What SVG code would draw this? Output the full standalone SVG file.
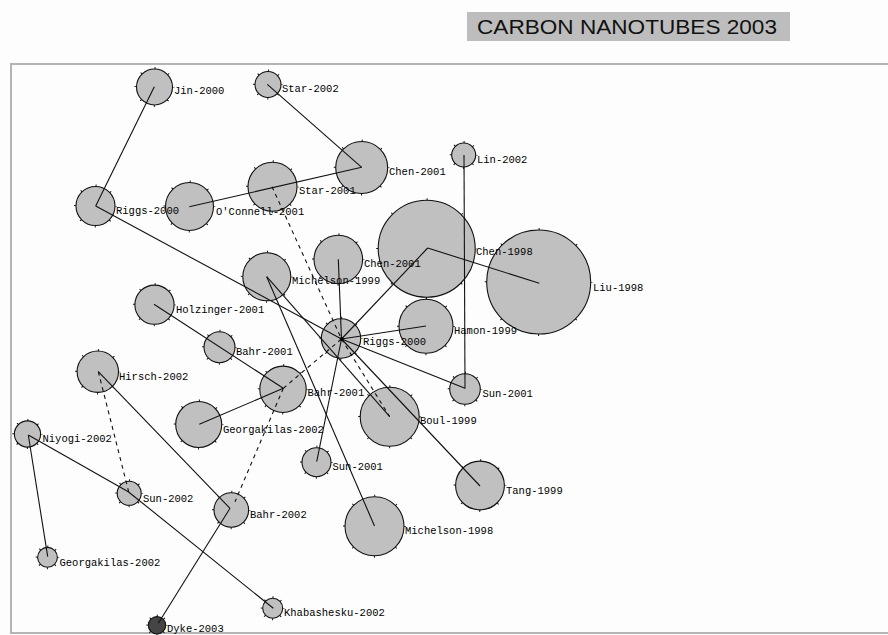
<svg xmlns="http://www.w3.org/2000/svg" width="888" height="635" viewBox="0 0 888 635">
  <defs>
    <style>
      .bg { fill: #fdfdfd; }
      .frame { fill: none; stroke: #b4b4b4; stroke-width: 2; }
      .title-box { fill: #bdbdbd; }
      .title { font-family: "Liberation Sans", Arial, sans-serif; font-size: 21px; fill: #111; }
      .node { fill: #c0c0c0; stroke: #111; stroke-width: 1.1; }
      .node.dark { fill: #454545; }
      .tick { fill: none; stroke: #111; stroke-width: 2; stroke-dashoffset: 0.5; }
      .label { font-family: "Liberation Mono", "DejaVu Sans Mono", monospace; font-size: 10.5px; fill: #000; }
      .edge { stroke: #111; stroke-width: 1.1; fill: none; }
      .edge.dashed { stroke-dasharray: 4 4; }
      .hubdot { fill: #000; }
    </style>
  </defs>

  <rect class="bg" x="0" y="0" width="888" height="635"/>

  <!-- title -->
  <g id="title">
    <rect class="title-box" x="467" y="12" width="323" height="29"/>
    <text class="title" x="477" y="34" textLength="300" lengthAdjust="spacingAndGlyphs">CARBON NANOTUBES 2003</text>
  </g>

  <!-- plot frame -->
  <rect class="frame" x="11" y="64" width="890" height="569"/>

  <!-- nodes: filled circle with a ring of eight small ticks -->
  <g id="jin-2000">
    <circle class="node" cx="154.5" cy="87" r="18"/>
    <circle class="tick" cx="154.5" cy="87" r="19" stroke-dasharray="1 13.92"/>
  </g>
  <g id="star-2002">
    <circle class="node" cx="268" cy="84.5" r="13"/>
    <circle class="tick" cx="268" cy="84.5" r="14" stroke-dasharray="1 10"/>
  </g>
  <g id="chen-2001-a">
    <circle class="node" cx="361.7" cy="167.5" r="26"/>
    <circle class="tick" cx="361.7" cy="167.5" r="27" stroke-dasharray="1 20.21"/>
  </g>
  <g id="lin-2002">
    <circle class="node" cx="463.7" cy="155" r="12"/>
    <circle class="tick" cx="463.7" cy="155" r="13" stroke-dasharray="1 9.21"/>
  </g>
  <g id="star-2001">
    <circle class="node" cx="272.5" cy="186.7" r="24.5"/>
    <circle class="tick" cx="272.5" cy="186.7" r="25.5" stroke-dasharray="1 19.03"/>
  </g>
  <g id="oconnell-2001">
    <circle class="node" cx="189.5" cy="206.5" r="24"/>
    <circle class="tick" cx="189.5" cy="206.5" r="25" stroke-dasharray="1 18.63"/>
  </g>
  <g id="riggs-2000-a">
    <circle class="node" cx="95.5" cy="206" r="19.5"/>
    <circle class="tick" cx="95.5" cy="206" r="20.5" stroke-dasharray="1 15.10"/>
  </g>
  <g id="chen-1998">
    <circle class="node" cx="426.7" cy="248.7" r="48.5"/>
    <circle class="tick" cx="426.7" cy="248.7" r="49.5" stroke-dasharray="1 37.88"/>
  </g>
  <g id="liu-1998">
    <circle class="node" cx="538.7" cy="282" r="52"/>
    <circle class="tick" cx="538.7" cy="282" r="53" stroke-dasharray="1 40.63"/>
  </g>
  <g id="chen-2001-b">
    <circle class="node" cx="338.3" cy="259.5" r="24.3"/>
    <circle class="tick" cx="338.3" cy="259.5" r="25.3" stroke-dasharray="1 18.87"/>
  </g>
  <g id="michelson-1999">
    <circle class="node" cx="266.8" cy="276.8" r="24"/>
    <circle class="tick" cx="266.8" cy="276.8" r="25" stroke-dasharray="1 18.63"/>
  </g>
  <g id="riggs-2000-b">
    <circle class="node" cx="341" cy="338.5" r="19.7"/>
    <circle class="tick" cx="341" cy="338.5" r="20.7" stroke-dasharray="1 15.26"/>
  </g>
  <g id="hamon-1999">
    <circle class="node" cx="426" cy="326.3" r="27"/>
    <circle class="tick" cx="426" cy="326.3" r="28" stroke-dasharray="1 20.99"/>
  </g>
  <g id="sun-2001-a">
    <circle class="node" cx="465" cy="389" r="15.3"/>
    <circle class="tick" cx="465" cy="389" r="16.3" stroke-dasharray="1 11.80"/>
  </g>
  <g id="boul-1999">
    <circle class="node" cx="389.7" cy="416.7" r="29.5"/>
    <circle class="tick" cx="389.7" cy="416.7" r="30.5" stroke-dasharray="1 22.95"/>
  </g>
  <g id="holzinger-2001">
    <circle class="node" cx="154.5" cy="304.7" r="19.6"/>
    <circle class="tick" cx="154.5" cy="304.7" r="20.6" stroke-dasharray="1 15.18"/>
  </g>
  <g id="bahr-2001-a">
    <circle class="node" cx="219.5" cy="347.2" r="15.5"/>
    <circle class="tick" cx="219.5" cy="347.2" r="16.5" stroke-dasharray="1 11.96"/>
  </g>
  <g id="bahr-2001-b">
    <circle class="node" cx="283" cy="389.3" r="23.2"/>
    <circle class="tick" cx="283" cy="389.3" r="24.2" stroke-dasharray="1 18.01"/>
  </g>
  <g id="hirsch-2002">
    <circle class="node" cx="97.8" cy="371.7" r="20.7"/>
    <circle class="tick" cx="97.8" cy="371.7" r="21.7" stroke-dasharray="1 16.04"/>
  </g>
  <g id="georgakilas-2002-a">
    <circle class="node" cx="198.7" cy="424.5" r="23"/>
    <circle class="tick" cx="198.7" cy="424.5" r="24" stroke-dasharray="1 17.85"/>
  </g>
  <g id="niyogi-2002">
    <circle class="node" cx="27.5" cy="434" r="13.1"/>
    <circle class="tick" cx="27.5" cy="434" r="14.1" stroke-dasharray="1 10.07"/>
  </g>
  <g id="sun-2001-b">
    <circle class="node" cx="316.5" cy="462.2" r="14.5"/>
    <circle class="tick" cx="316.5" cy="462.2" r="15.5" stroke-dasharray="1 11.17"/>
  </g>
  <g id="tang-1999">
    <circle class="node" cx="480" cy="485.5" r="24.4"/>
    <circle class="tick" cx="480" cy="485.5" r="25.4" stroke-dasharray="1 18.95"/>
  </g>
  <g id="michelson-1998">
    <circle class="node" cx="374.5" cy="526.2" r="29.5"/>
    <circle class="tick" cx="374.5" cy="526.2" r="30.5" stroke-dasharray="1 22.95"/>
  </g>
  <g id="sun-2002">
    <circle class="node" cx="129.2" cy="493.3" r="12"/>
    <circle class="tick" cx="129.2" cy="493.3" r="13" stroke-dasharray="1 9.21"/>
  </g>
  <g id="bahr-2002">
    <circle class="node" cx="231.3" cy="510" r="17.3"/>
    <circle class="tick" cx="231.3" cy="510" r="18.3" stroke-dasharray="1 13.37"/>
  </g>
  <g id="georgakilas-2002-b">
    <circle class="node" cx="47.5" cy="557.3" r="9.9"/>
    <circle class="tick" cx="47.5" cy="557.3" r="10.9" stroke-dasharray="1 7.56"/>
  </g>
  <g id="khabashesku-2002">
    <circle class="node" cx="272.7" cy="608.3" r="10"/>
    <circle class="tick" cx="272.7" cy="608.3" r="11" stroke-dasharray="1 7.64"/>
  </g>
  <g id="dyke-2003">
    <circle class="node dark" cx="157" cy="625.3" r="8.7"/>
    <circle class="tick" cx="157" cy="625.3" r="9.7" stroke-dasharray="1 6.62"/>
  </g>

  <!-- connectors, drawn centre to centre -->
  <g id="connectors">
    <line class="edge" x1="154.3" y1="86.7" x2="95.7" y2="206"/>
    <line class="edge" x1="95.7" y1="206" x2="341.5" y2="339"/>
    <line class="edge" x1="267.3" y1="84.3" x2="361.7" y2="167.3"/>
    <line class="edge" x1="189.3" y1="206.7" x2="361.7" y2="167.3"/>
    <line class="edge" x1="464" y1="155" x2="465" y2="388.5"/>
    <line class="edge" x1="427.7" y1="248" x2="539.3" y2="283.3"/>
    <line class="edge" x1="427.7" y1="248" x2="341.5" y2="339"/>
    <line class="edge" x1="338.3" y1="259.3" x2="341.5" y2="339"/>
    <line class="edge" x1="426" y1="326" x2="341.5" y2="339"/>
    <line class="edge" x1="465" y1="388.3" x2="341.5" y2="339"/>
    <line class="edge" x1="266.7" y1="276.7" x2="374.5" y2="526"/>
    <line class="edge" x1="266.7" y1="276.7" x2="389.7" y2="416.7"/>
    <line class="edge" x1="341.5" y1="339" x2="480" y2="486"/>
    <line class="edge" x1="154" y1="304.3" x2="283.3" y2="388.3"/>
    <line class="edge" x1="199.3" y1="424.3" x2="283.3" y2="388.3"/>
    <line class="edge" x1="316.7" y1="461.7" x2="341.5" y2="339"/>
    <line class="edge" x1="98.3" y1="371.7" x2="230" y2="508.3"/>
    <line class="edge" x1="28.3" y1="435" x2="47.7" y2="556.7"/>
    <line class="edge" x1="28.3" y1="435" x2="128.3" y2="491.7"/>
    <line class="edge" x1="128.3" y1="491.7" x2="273.3" y2="608.3"/>
    <line class="edge" x1="230" y1="508.3" x2="158.3" y2="623.3"/>
    <line class="edge dashed" x1="272" y1="186.7" x2="341.5" y2="339"/>
    <line class="edge dashed" x1="341.5" y1="339" x2="389.7" y2="416.7"/>
    <line class="edge dashed" x1="283.3" y1="388.3" x2="341.5" y2="339"/>
    <line class="edge dashed" x1="283.3" y1="388.3" x2="235" y2="501.7"/>
    <line class="edge dashed" x1="98.3" y1="371.7" x2="129" y2="493"/>
    <circle class="hubdot" cx="341.7" cy="339" r="2"/>
  </g>

  <!-- node labels, kept above circles and connectors -->
  <g id="labels">
    <text class="label" x="174" y="94">Jin-2000</text>
    <text class="label" x="282" y="92">Star-2002</text>
    <text class="label" x="389" y="175">Chen-2001</text>
    <text class="label" x="477" y="163">Lin-2002</text>
    <text class="label" x="299" y="194">Star-2001</text>
    <text class="label" x="216" y="215">O'Connell-2001</text>
    <text class="label" x="116" y="214">Riggs-2000</text>
    <text class="label" x="476" y="255">Chen-1998</text>
    <text class="label" x="593" y="291">Liu-1998</text>
    <text class="label" x="364" y="267">Chen-2001</text>
    <text class="label" x="292" y="283.5">Michelson-1999</text>
    <text class="label" x="363" y="345">Riggs-2000</text>
    <text class="label" x="454" y="333.5">Hamon-1999</text>
    <text class="label" x="482.5" y="397">Sun-2001</text>
    <text class="label" x="420" y="424">Boul-1999</text>
    <text class="label" x="176" y="313">Holzinger-2001</text>
    <text class="label" x="236" y="355">Bahr-2001</text>
    <text class="label" x="307.5" y="396">Bahr-2001</text>
    <text class="label" x="119" y="379.5">Hirsch-2002</text>
    <text class="label" x="223" y="432.5">Georgakilas-2002</text>
    <text class="label" x="42.5" y="442">Niyogi-2002</text>
    <text class="label" x="332.5" y="470">Sun-2001</text>
    <text class="label" x="506" y="493.5">Tang-1999</text>
    <text class="label" x="405" y="534">Michelson-1998</text>
    <text class="label" x="143" y="502">Sun-2002</text>
    <text class="label" x="250" y="518">Bahr-2002</text>
    <text class="label" x="59.5" y="566">Georgakilas-2002</text>
    <text class="label" x="284" y="616">Khabashesku-2002</text>
    <text class="label" x="167" y="632">Dyke-2003</text>
  </g>
</svg>
